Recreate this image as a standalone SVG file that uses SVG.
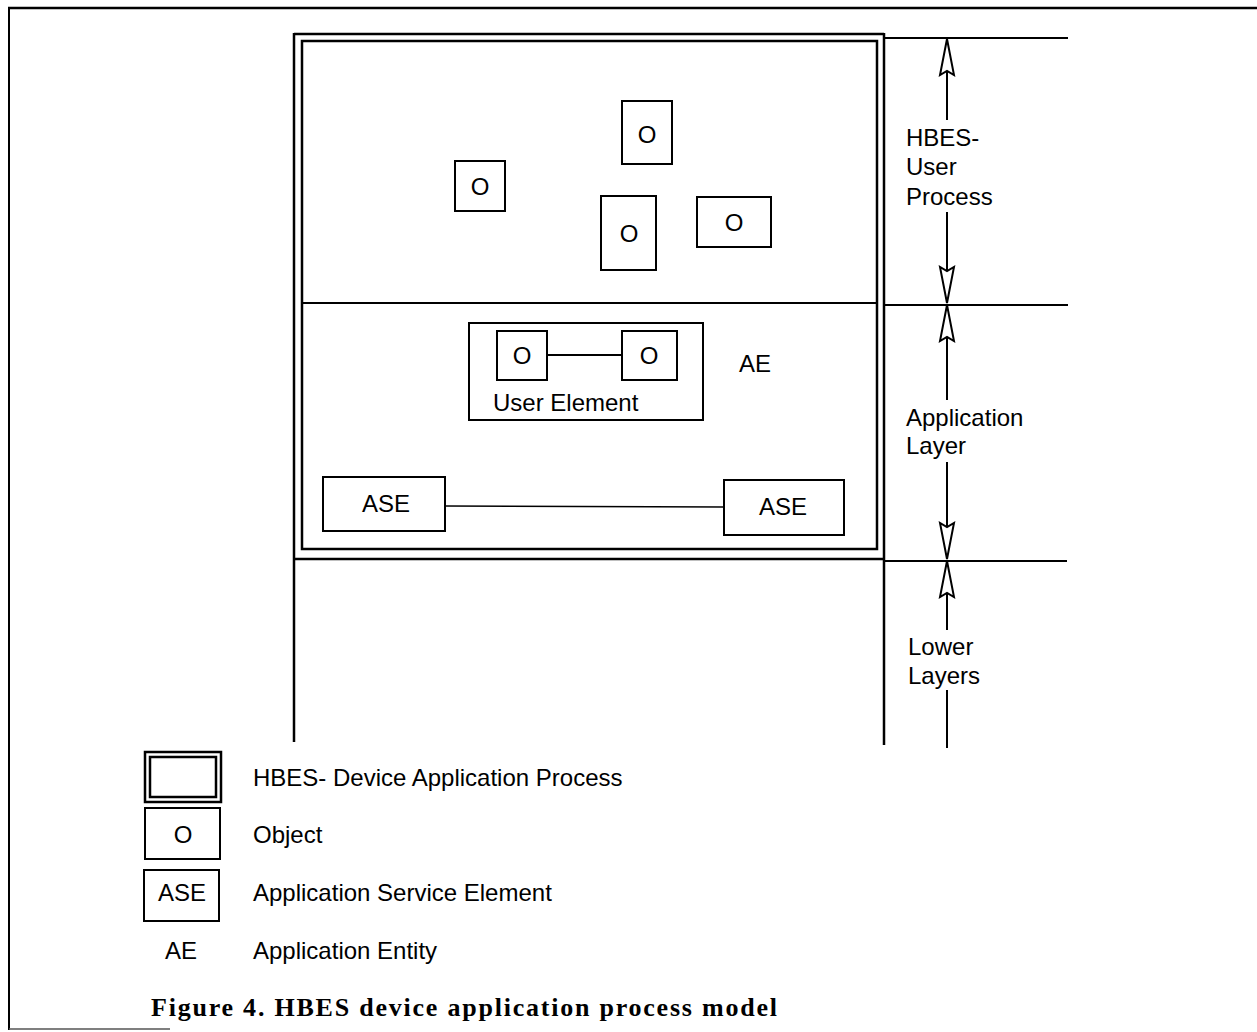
<svg xmlns="http://www.w3.org/2000/svg" width="1257" height="1032" viewBox="0 0 1257 1032">
  <style>
    .ln { stroke: #000; stroke-width: 2; fill: none; }
    .thick { stroke: #000; stroke-width: 2.5; fill: none; }
    .box { stroke: #000; stroke-width: 2; fill: #fff; }
    .t { font-family: "Liberation Sans", Arial, sans-serif; font-size: 24px; fill: #000; }
    .c { text-anchor: middle; }
    .cap { font-family: "Liberation Serif", "Times New Roman", serif; font-weight: bold; font-size: 26px; fill: #000; }
  </style>
  <defs>
    <!-- hollow arrowhead, tip at origin, pointing up -->
    <polygon id="head" points="0,0 -7,36 0,32 7,36" fill="#fff" stroke="#000" stroke-width="2" stroke-linejoin="miter"/>
  </defs>

  <rect width="1257" height="1032" fill="#fff"/>

  <!-- page frame -->
  <g id="frame">
    <line class="thick" x1="8" y1="8" x2="1257" y2="8"/>
    <line class="ln" x1="9" y1="8" x2="9" y2="1030"/>
    <line x1="9" y1="1029" x2="170" y2="1029" stroke="#555" stroke-width="1.5"/>
  </g>

  <!-- layer boundaries and device process frame -->
  <g id="layers">
    <line class="thick" x1="294" y1="34" x2="884" y2="34"/>
    <line class="thick" x1="294" y1="33" x2="294" y2="742"/>
    <line class="thick" x1="884" y1="33" x2="884" y2="745"/>
    <line class="thick" x1="294" y1="559" x2="884" y2="559"/>
    <rect class="thick" x="302" y="41" width="575" height="508"/>
    <line class="ln" x1="302" y1="303" x2="877" y2="303"/>
    <line class="ln" x1="884" y1="38" x2="1068" y2="38"/>
    <line class="ln" x1="884" y1="305" x2="1068" y2="305"/>
    <line class="ln" x1="884" y1="561" x2="1067" y2="561"/>
  </g>

  <!-- objects of the user process -->
  <g id="obj1"><rect class="box" x="455" y="161" width="50" height="50"/><text class="t c" x="480" y="195">O</text></g>
  <g id="obj2"><rect class="box" x="622" y="101" width="50" height="63"/><text class="t c" x="647" y="143">O</text></g>
  <g id="obj3"><rect class="box" x="601" y="196" width="55" height="74"/><text class="t c" x="629" y="242">O</text></g>
  <g id="obj4"><rect class="box" x="697" y="197" width="74" height="50"/><text class="t c" x="734" y="231">O</text></g>

  <!-- application entity -->
  <g id="user-element">
    <rect class="box" x="469" y="323" width="234" height="97"/>
    <text class="t" x="493" y="411">User Element</text>
  </g>
  <g id="ue-obj1"><rect class="box" x="497" y="331" width="50" height="49"/><text class="t c" x="522" y="364">O</text></g>
  <g id="ue-obj2"><rect class="box" x="622" y="331" width="55" height="49"/><text class="t c" x="649" y="364">O</text></g>
  <g id="ae-label"><text class="t" x="739" y="372">AE</text></g>
  <g id="ase1"><rect class="box" x="323" y="477" width="122" height="54"/><text class="t c" x="386" y="512">ASE</text></g>
  <g id="ase2"><rect class="box" x="724" y="480" width="120" height="55"/><text class="t c" x="783" y="515">ASE</text></g>

  <!-- connectors -->
  <g id="connectors">
    <line class="ln" x1="547" y1="355" x2="622" y2="355"/>
    <line x1="445" y1="506" x2="724" y2="507" stroke="#000" stroke-width="1.5"/>
  </g>

  <!-- layer extent dimensions -->
  <g id="dimensions">
    <line class="ln" x1="947" y1="70" x2="947" y2="120"/>
    <line class="ln" x1="947" y1="212" x2="947" y2="270"/>
    <use href="#head" x="947" y="39"/>
    <use href="#head" transform="translate(947 303) rotate(180)"/>
    <text class="t" x="906" y="146">HBES-</text>
    <text class="t" x="906" y="175">User</text>
    <text class="t" x="906" y="205">Process</text>

    <line class="ln" x1="947" y1="337" x2="947" y2="400"/>
    <line class="ln" x1="947" y1="462" x2="947" y2="526"/>
    <use href="#head" x="947" y="305"/>
    <use href="#head" transform="translate(947 559) rotate(180)"/>
    <text class="t" x="906" y="426">Application</text>
    <text class="t" x="906" y="454">Layer</text>

    <line class="ln" x1="947" y1="593" x2="947" y2="630"/>
    <line class="ln" x1="947" y1="690" x2="947" y2="748"/>
    <use href="#head" x="947" y="561"/>
    <text class="t" x="908" y="655">Lower</text>
    <text class="t" x="908" y="684">Layers</text>
  </g>

  <!-- legend -->
  <g id="legend-process">
    <rect class="thick" x="145" y="752" width="76" height="50"/>
    <rect class="thick" x="150" y="757" width="66" height="40"/>
    <text class="t" x="253" y="786">HBES- Device Application Process</text>
  </g>
  <g id="legend-object">
    <rect class="box" x="145" y="808" width="75" height="51"/>
    <text class="t c" x="183" y="843">O</text>
    <text class="t" x="253" y="843">Object</text>
  </g>
  <g id="legend-ase">
    <rect class="box" x="144" y="870" width="75" height="51"/>
    <text class="t c" x="182" y="901">ASE</text>
    <text class="t" x="253" y="901">Application Service Element</text>
  </g>
  <g id="legend-ae">
    <text class="t c" x="181" y="959">AE</text>
    <text class="t" x="253" y="959">Application Entity</text>
  </g>

  <text class="cap" x="151" y="1016" textLength="626" lengthAdjust="spacing">Figure 4. HBES device application process model</text>
</svg>
